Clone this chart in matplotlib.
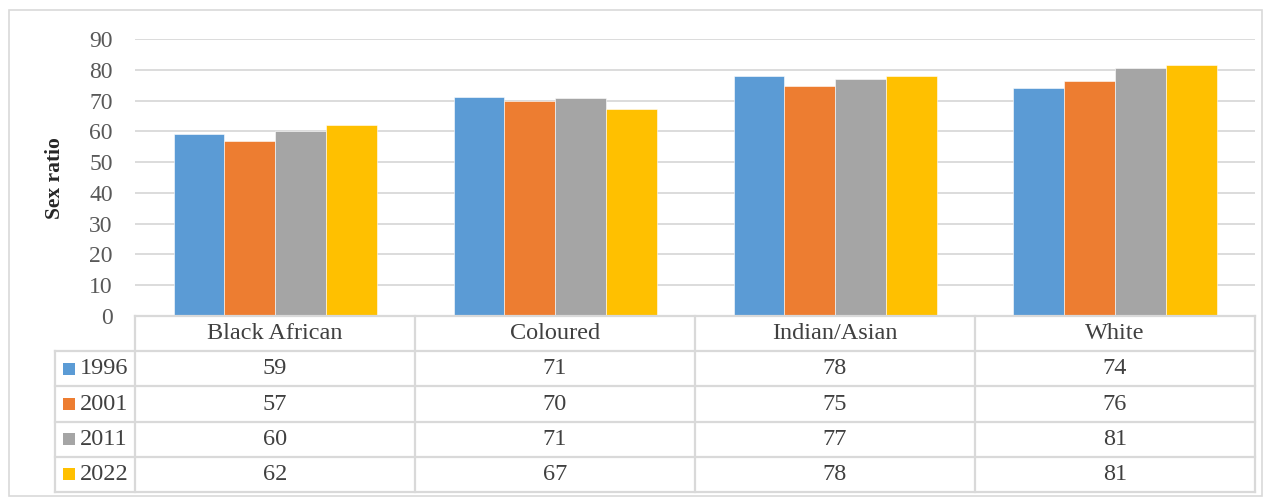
import numpy as np
import matplotlib
matplotlib.use("Agg")
import matplotlib.pyplot as plt
from matplotlib.patches import Rectangle

categories = ["Black African", "Coloured", "Indian/Asian", "White"]
years = ["1996", "2001", "2011", "2022"]
v1996 = [59.2, 71.1, 77.9, 74.0]
v2001 = [56.8, 69.8, 74.6, 76.3]
v2011 = [60.1, 70.9, 77.0, 80.6]
v2022 = [62.2, 67.3, 78.0, 81.4]
series = [v1996, v2001, v2011, v2022]
colors = ["#5B9BD5", "#ED7D31", "#A5A5A5", "#FFC000"]

plt.rcParams["font.family"] = ["Liberation Serif", "DejaVu Serif"]

W, H = 1271, 497
fig = plt.figure(figsize=(W / 100, H / 100), dpi=100)

def px(x0, y0, x1, y1):
    return [x0 / W, 1 - y1 / H, (x1 - x0) / W, (y1 - y0) / H]

# outer frame
fig.patches.append(Rectangle((9 / W, 1 - 496 / H), 1253 / W, 486 / H,
                             transform=fig.transFigure, fill=False,
                             edgecolor="#d9d9d9", lw=1.2))

ax = fig.add_axes(px(135, 39, 1255, 316))
n = len(series)
w = 0.725 / n
x = np.arange(len(categories))
for k, (vals, c) in enumerate(zip(series, colors)):
    ax.bar(x + (k - (n - 1) / 2) * w, vals, width=w, color=c,
           edgecolor="white", linewidth=0.4, zorder=3)

ax.set_xlim(-0.5, len(categories) - 0.5)
ax.set_ylim(0, 90)
ax.set_yticks(range(0, 91, 10))
ax.set_xticks([])
ax.yaxis.grid(True, color="#d9d9d9", lw=1.3, zorder=0)
ax.tick_params(axis="y", length=0, pad=16, labelsize=17, labelcolor="#595959")
for s in ax.spines.values():
    s.set_visible(False)

fig.text(55 / W, 1 - 178 / H, "Sex ratio", rotation=90, ha="center",
         va="center", fontsize=15.5, fontweight="bold", color="#262626")

# data table
tab = fig.add_axes(px(55, 316, 1255, 492))
xl = -0.5 - 80 / 280
xr = len(categories) - 0.5
tab.set_xlim(xl, xr)
tab.set_ylim(len(years) + 1, 0)
tab.axis("off")
lc = "#d9d9d9"
tab.plot([-0.5, xr], [0, 0], color=lc, lw=1.6, clip_on=False)
for r in range(1, len(years) + 2):
    tab.plot([xl, xr], [r, r], color=lc, lw=1.6, clip_on=False)
tab.plot([xl, xl], [1, len(years) + 1], color=lc, lw=1.6, clip_on=False)
for k in range(len(categories) + 1):
    tab.plot([k - 0.5, k - 0.5], [0, len(years) + 1], color=lc, lw=1.6, clip_on=False)

tc = "#404040"
fs = 17.5
for i, cat in enumerate(categories):
    tab.text(i, 0.5, cat, ha="center", va="center", fontsize=fs, color=tc)
for r, (yr, vals, c) in enumerate(zip(years, series, colors)):
    yc = r + 1.5
    tab.add_patch(Rectangle((xl + 8 / 280, yc - 0.17), 12 / 280, 0.34,
                            facecolor=c, edgecolor="none", clip_on=False))
    tab.text(xl + 25 / 280, yc, yr, ha="left", va="center", fontsize=fs, color=tc)
    for i, v in enumerate(vals):
        tab.text(i, yc, f"{v:.0f}", ha="center", va="center", fontsize=fs, color=tc)

fig.savefig("out.png", dpi=100)
